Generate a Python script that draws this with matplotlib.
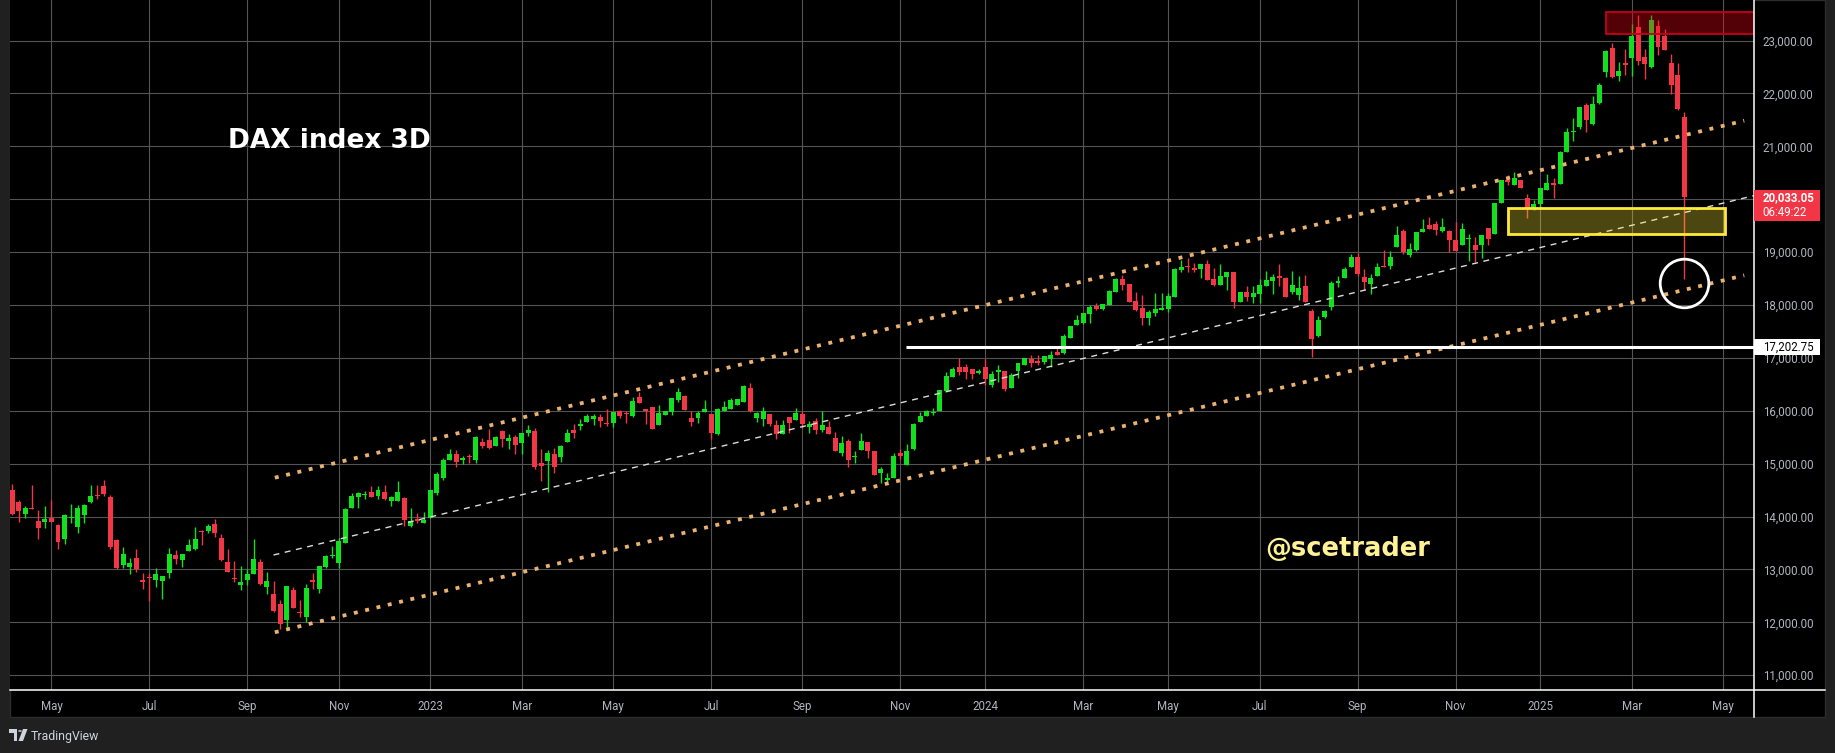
import numpy as np
import pandas as pd
import matplotlib
matplotlib.use('Agg')
import matplotlib.pyplot as plt
from matplotlib.patches import Rectangle, Polygon, Circle

# DAX 3D candles (last bar starts 2025-04-03)
opens = [14497, 14277, 14044, 14157, 13912, 13899, 13968, 13836, 13578, 13974,
         13805, 14031, 14277, 14390, 14572, 14365, 13553, 13081, 13043, 13213,
         12798, 12861, 12804, 12785, 12936, 13270, 13175, 13352, 13389, 13716,
         13723, 13855, 13591, 13137, 12842, 12709, 12804, 12917, 13137, 12672,
         12533, 12344, 12042, 12609, 12181, 12105, 12798, 12634, 13049, 13257,
         13119, 13503, 14163, 14371, 14402, 14459, 14390, 14459, 14296, 14289,
         14352, 13819, 13952, 13876, 13978, 14447, 14732, 15062, 15189, 15074,
         15150, 15074, 15417, 15455, 15328, 15626, 15436, 15512, 15398, 15588,
         15626, 15017, 15055, 15189, 15131, 15417, 15645, 15715, 15778, 15835,
         15873, 15765, 15765, 15987, 15955, 15892, 16254, 16025, 16076, 15734,
         15924, 15981, 16209, 16285, 15867, 15867, 15981, 15943, 15563, 16000,
         16038, 16114, 16171, 16437, 15867, 15848, 15943, 15734, 15563, 15886,
         15829, 15943, 15696, 15810, 15639, 15696, 15487, 15202, 15430, 15120,
         15259, 15411, 15240, 14823, 14690, 14728, 15202, 14975, 15278, 15791,
         15905, 15962, 16000, 16380, 16646, 16836, 16836, 16798, 16722, 16836,
         16494, 16741, 16742, 16439, 16742, 16874, 16987, 16931, 16931, 16969,
         17120, 17101, 17384, 17630, 17668, 17838, 17989, 17932, 18008, 18254,
         18499, 18405, 18084, 17951, 17762, 17857, 17913, 17932, 18159, 18669,
         18732, 18707, 18688, 18783, 18499, 18386, 18537, 18632, 18065, 18254,
         18159, 18216, 18367, 18461, 18537, 18518, 18254, 18197, 18367, 17895,
         17422, 17781, 17970, 18424, 18518, 18722, 18912, 18533, 18401, 18539,
         18722, 18741, 19088, 19404, 18950, 19044, 19385, 19517, 19536, 19404,
         19404, 19233, 19139, 19252, 19139, 19139, 19461, 19347, 19934, 20369,
         20275, 20369, 20028, 19820, 19915, 20180, 20312, 20294, 20886, 21265,
         21359, 21776, 21416, 21814, 22401, 22855, 22325, 22571, 22666, 23252,
         22684, 22495, 23271, 23082, 22571, 22344, 21549]
highs = [14610, 14320, 14195, 14591, 14119, 14195, 14308, 13855, 14044, 14233,
         14214, 14245, 14591, 14591, 14698, 14415, 13572, 13433, 13207, 13383,
         12924, 12924, 13024, 12873, 13408, 13364, 13289, 13578, 13798, 13748,
         13855, 13949, 13666, 13383, 13157, 13062, 13005, 13572, 13194, 12949,
         12779, 12420, 12684, 12665, 12420, 12722, 12930, 13062, 13270, 13440,
         13591, 14157, 14447, 14465, 14484, 14572, 14579, 14598, 14384, 14667,
         14377, 14161, 14060, 14086, 14504, 14846, 15112, 15284, 15265, 15150,
         15189, 15531, 15493, 15664, 15531, 15645, 15569, 15550, 15588, 15721,
         15683, 15284, 15265, 15303, 15354, 15664, 15740, 15835, 15930, 15930,
         15930, 16025, 15968, 16006, 15987, 16254, 16349, 16025, 16076, 16114,
         16000, 16247, 16437, 16304, 16000, 16000, 16209, 15943, 16057, 16190,
         16247, 16228, 16494, 16532, 15975, 16076, 15943, 15829, 15829, 15886,
         16057, 16000, 15810, 15867, 16000, 15810, 15601, 15525, 15468, 15240,
         15582, 15411, 15240, 14937, 14823, 15202, 15278, 15373, 15772, 15981,
         16019, 16057, 16399, 16741, 16836, 17006, 16893, 16798, 16798, 16969,
         16760, 16874, 16742, 16723, 16912, 17006, 17057, 17063, 17044, 17139,
         17214, 17460, 17611, 17819, 17857, 18008, 18046, 18027, 18292, 18518,
         18575, 18405, 18254, 18197, 17913, 18235, 18235, 18235, 18707, 18859,
         18896, 18802, 18783, 18859, 18707, 18783, 18632, 18632, 18254, 18367,
         18367, 18499, 18651, 18594, 18783, 18537, 18651, 18556, 18575, 17932,
         17800, 17913, 18461, 18556, 18726, 18968, 18981, 18685, 18584, 18798,
         19044, 19025, 19498, 19442, 19177, 19385, 19631, 19669, 19593, 19650,
         19423, 19574, 19555, 19347, 19290, 19328, 19461, 19934, 20369, 20464,
         20521, 20369, 20104, 19991, 20218, 20483, 20407, 20918, 21340, 21530,
         21738, 21814, 21946, 22192, 22817, 22950, 22590, 22836, 23309, 23480,
         22836, 23480, 23385, 23215, 22741, 22571, 21643]
lows = [14025, 13899, 13968, 14140, 13578, 13780, 13890, 13389, 13484, 13880,
        13691, 13880, 14258, 14327, 14390, 13389, 13012, 13031, 12917, 12955,
        12634, 12407, 12672, 12445, 12842, 13106, 13049, 13352, 13370, 13459,
        13679, 13616, 13157, 12955, 12766, 12609, 12709, 12911, 12709, 12533,
        12193, 11873, 11910, 12275, 12105, 12005, 12634, 12558, 13024, 13219,
        13024, 13503, 14163, 14163, 14333, 14365, 14340, 14308, 14201, 14289,
        13826, 13800, 13883, 13876, 13978, 14403, 14694, 15062, 14929, 14986,
        15005, 15005, 15296, 15271, 15328, 15309, 15271, 15176, 15176, 15531,
        14903, 14675, 14472, 14827, 15036, 15417, 15493, 15645, 15778, 15721,
        15702, 15709, 15689, 15854, 15759, 15873, 16146, 15746, 15646, 15734,
        15924, 15924, 16171, 16006, 15715, 15772, 15981, 15468, 15544, 16000,
        16038, 16114, 16171, 15968, 15791, 15715, 15715, 15468, 15563, 15582,
        15829, 15671, 15582, 15563, 15601, 15563, 15240, 15145, 14936, 15005,
        15259, 15107, 14785, 14633, 14652, 14728, 15088, 14975, 15259, 15791,
        15905, 15924, 16000, 16380, 16646, 16684, 16608, 16608, 16703, 16494,
        16456, 16551, 16364, 16439, 16628, 16874, 16836, 16874, 16893, 16836,
        17063, 17082, 17384, 17630, 17649, 17668, 17913, 17913, 18008, 18254,
        18292, 18065, 17894, 17630, 17630, 17800, 17913, 17876, 18159, 18632,
        18632, 18632, 18518, 18480, 18367, 18386, 18292, 17951, 18065, 18084,
        18046, 18046, 18367, 18216, 18367, 18159, 18216, 18102, 18065, 17025,
        17403, 17762, 17913, 18348, 18518, 18722, 18539, 18274, 18211, 18539,
        18710, 18685, 19088, 18968, 18912, 19025, 19385, 19429, 19328, 19385,
        19006, 19025, 19139, 18836, 18817, 18893, 19139, 19347, 19934, 20275,
        20275, 20218, 19650, 19801, 19839, 20180, 20028, 20294, 20886, 21095,
        21322, 21265, 21397, 21795, 22306, 22287, 22230, 22344, 22325, 22533,
        22268, 22476, 22722, 22817, 21984, 21681, 18489]
closes = [14056, 14107, 14157, 14145, 13786, 13950, 13899, 13522, 14025, 14000,
          14170, 14226, 14383, 14380, 14428, 13427, 13031, 13282, 13125, 12999,
          12766, 12842, 12911, 12873, 13289, 13200, 13289, 13459, 13572, 13704,
          13817, 13691, 13175, 12955, 12817, 12760, 12911, 13194, 12722, 12779,
          12212, 11973, 12684, 12275, 12168, 12647, 12766, 13062, 13251, 13270,
          13528, 14138, 14383, 14447, 14428, 14365, 14497, 14327, 14365, 14459,
          13933, 13914, 13920, 13940, 14504, 14808, 15074, 15189, 15024, 15100,
          15119, 15505, 15328, 15303, 15512, 15474, 15493, 15360, 15588, 15645,
          14935, 14960, 15208, 14941, 15341, 15588, 15588, 15740, 15892, 15892,
          15797, 15746, 15968, 15892, 15930, 16178, 16146, 16000, 15658, 15962,
          16000, 16247, 16361, 16019, 15791, 15962, 16038, 15582, 16038, 16076,
          16209, 16228, 16475, 16000, 15962, 16000, 15753, 15563, 15734, 15772,
          15962, 15753, 15753, 15639, 15734, 15563, 15240, 15392, 15069, 15139,
          15430, 15240, 14785, 14899, 14728, 15145, 15145, 15240, 15753, 15905,
          16000, 15981, 16399, 16665, 16798, 16741, 16741, 16703, 16760, 16608,
          16703, 16760, 16420, 16685, 16912, 17000, 16912, 16912, 17044, 17063,
          17063, 17422, 17611, 17724, 17857, 17970, 17932, 18027, 18273, 18499,
          18386, 18065, 17913, 17762, 17876, 17932, 17932, 18178, 18688, 18726,
          18713, 18669, 18783, 18480, 18386, 18556, 18632, 18065, 18254, 18159,
          18235, 18386, 18480, 18537, 18518, 18159, 18386, 18329, 18065, 17347,
          17724, 17895, 18424, 18461, 18688, 18912, 18577, 18426, 18514, 18722,
          18710, 18912, 19328, 19006, 19063, 19385, 19442, 19429, 19423, 19480,
          19233, 19025, 19442, 19271, 19044, 19328, 19252, 19934, 20369, 20319,
          20407, 20218, 19839, 19915, 20218, 20312, 20262, 20899, 21265, 21284,
          21738, 21492, 21795, 22154, 22798, 22306, 22419, 22533, 23082, 22609,
          22552, 23385, 22874, 22817, 22154, 21700, 20033.05]

last_bar_start = '2025-04-03'
xetra_holidays = ['2022-04-15', '2022-04-18', '2022-12-26', '2023-04-07', '2023-04-10',
                  '2023-05-01', '2023-12-25', '2023-12-26', '2024-01-01', '2024-03-29',
                  '2024-04-01', '2024-05-01', '2024-12-24', '2024-12-25', '2024-12-26',
                  '2024-12-31', '2025-01-01', '2025-04-18', '2025-04-21', '2025-05-01']

# drawings (bar index, price)
channel_x = [40.2, 265.2]
channel_upper = [14734, 21484]
channel_lower = [11811, 18561]
mid_x = [40.0, 266.7]
mid_y = [13272, 20067]
support_level = 17202.75
support_from = 136.9
zone_x = [229.1, 262.2]
zone_y = [19336, 19839]
top_x = [244.1, 266.7]
top_y = [23117, 23533]
circle_xy = (256, 18409)
last_price = 20033.05
countdown = '06:49:22'

GREEN = '#12e01f'
RED = '#f23645'
AXIS_TXT = '#b2b5be'

W, H = 1835, 753
def fx(px):
    return px / W
def fy(py):
    return 1 - py / H

fig = plt.figure(figsize=(W / 100, H / 100), dpi=100, facecolor='#202020')
fig.patches.append(Rectangle((fx(10), fy(717)), fx(1825) - fx(10), fy(0) - fy(717),
                             transform=fig.transFigure, facecolor='black',
                             edgecolor='#2c2c2c', lw=1, zorder=-10))
ax = fig.add_axes([fx(10), fy(690), fx(1754) - fx(10), fy(0) - fy(690)])
ax.set_facecolor('black')
for s in ax.spines.values():
    s.set_visible(False)

# bar dates -> month ticks
days = np.arange(np.datetime64('2022-01-03'), np.datetime64('2025-08-01'))
days = days[np.is_busday(days, holidays=xetra_holidays)]
n = len(closes)
n_total = n + 11
first = np.searchsorted(days, np.datetime64(last_bar_start)) - 3 * (n - 1)
bar_end = days[first + 2: first + 2 + 3 * n_total: 3]
months = bar_end.astype('datetime64[M]')
tick_pos, tick_lab = [], []
for i in range(1, len(months)):
    if months[i] != months[i - 1]:
        d = pd.Timestamp(bar_end[i])
        if d.month % 2 == 1:
            tick_pos.append(i)
            tick_lab.append(str(d.year) if d.month == 1 else d.strftime('%b'))

ax.set_xlim(-0.35, 266.7)
ax.set_ylim(10720, 23766)
ax.set_xticks(tick_pos)
ax.set_xticklabels(tick_lab)
ax.set_yticks(np.arange(11000, 23001, 1000))
ax.set_yticklabels(['{:,.2f}'.format(v) for v in range(11000, 23001, 1000)])
ax.yaxis.tick_right()
ax.tick_params(length=0, colors=AXIS_TXT, labelsize=8.3)
ax.tick_params(axis='y', pad=6.3)
ax.tick_params(axis='x', pad=7)
for t in ax.get_xticklabels() + ax.get_yticklabels():
    t.set_fontfamily('Roboto')
ax.grid(True, color='#545454', lw=0.8)
ax.set_axisbelow(True)

# candles
idx = np.arange(n)
o, h, l, c = (np.array(a, dtype=float) for a in (opens, highs, lows, closes))
col = np.where(c >= o, GREEN, RED)
ax.vlines(idx, l, h, colors=col, lw=1.0, zorder=3)
ax.bar(idx, np.maximum(np.abs(c - o), 22), bottom=np.minimum(o, c), width=0.76,
       color=col, lw=0, zorder=4)

# drawings
ax.plot(channel_x, channel_upper, color='#eab170', lw=2.7, ls=(0, (1.05, 2.05)),
        dash_capstyle='butt', zorder=5)
ax.plot(channel_x, channel_lower, color='#eab170', lw=2.7, ls=(0, (1.05, 2.05)),
        dash_capstyle='butt', zorder=5)
ax.plot(mid_x, mid_y, color='#dcdcdc', lw=1.0, ls=(0, (4.3, 4.0)), zorder=5)
ax.plot([support_from, 266.7], [support_level] * 2, color='white', lw=2.2,
        solid_capstyle='butt', zorder=5)
ax.add_patch(Rectangle((zone_x[0], zone_y[0]), zone_x[1] - zone_x[0], zone_y[1] - zone_y[0],
                       facecolor=(1, 0.92, 0.23, 0.3), edgecolor='#ffe93b', lw=2, zorder=5))
ax.add_patch(Rectangle((top_x[0], top_y[0]), top_x[1] - top_x[0], top_y[1] - top_y[0],
                       facecolor=(1, 0, 0.08, 0.33), edgecolor='#c4001a', lw=1.3, zorder=5))
ax.plot([circle_xy[0]], [circle_xy[1]], marker='o', ms=35, mfc='none', mec='white',
        mew=2, zorder=6)

fig.text(fx(228), fy(148), 'DAX index 3D', color='white', fontsize=19,
         fontweight='bold', ha='left', va='baseline')
fig.text(fx(1265), fy(556), '@scetrader', color='#fff196', fontsize=18.5,
         fontweight='bold', ha='left', va='baseline')

# frame lines between panes
fig.add_artist(plt.Line2D([fx(10), fx(1825)], [fy(690.3)] * 2, color='white', lw=1.1,
                          transform=fig.transFigure))
fig.add_artist(plt.Line2D([fx(1753.5)] * 2, [fy(0), fy(717)], color='white', lw=1.1,
                          transform=fig.transFigure))

# price labels on the axis
fig.patches.append(Rectangle((fx(1754), fy(221)), fx(1820) - fx(1754), fy(190) - fy(221),
                             transform=fig.transFigure, facecolor=RED, lw=0, zorder=5))
fig.text(fx(1762.7), fy(197.5), '{:,.2f}'.format(last_price), color='white', fontsize=8.3,
         fontfamily='Roboto', fontweight='bold', ha='left', va='center', zorder=6)
fig.text(fx(1762.7), fy(212), countdown, color='white', fontsize=8.3,
         fontfamily='Roboto', ha='left', va='center', zorder=6)
fig.patches.append(Rectangle((fx(1754), fy(355.3)), fx(1820) - fx(1754), fy(339.4) - fy(355.3),
                             transform=fig.transFigure, facecolor='white', lw=0, zorder=5))
fig.text(fx(1762.7), fy(347.3), '{:,.2f}'.format(support_level), color='black', fontsize=8.3,
         fontfamily='Roboto', ha='left', va='center', zorder=6)

# footer logo
logo = '#d1d4dc'
fig.patches.append(Polygon([(fx(9), fy(729)), (fx(17), fy(729)), (fx(17), fy(741)),
                            (fx(13.5), fy(741)), (fx(13.5), fy(732.5)), (fx(9), fy(732.5))],
                           closed=True, transform=fig.transFigure, facecolor=logo, lw=0))
fig.patches.append(Circle((fx(20), fy(731)), 1.9 / W, transform=fig.transFigure,
                          facecolor=logo, lw=0))
fig.patches.append(Polygon([(fx(23), fy(729)), (fx(27.5), fy(729)), (fx(23), fy(741)),
                            (fx(18.5), fy(741))], closed=True, transform=fig.transFigure,
                           facecolor=logo, lw=0))
fig.text(fx(31), fy(740), 'TradingView', color=logo, fontsize=8.8, fontfamily='Roboto',
         ha='left', va='baseline')

fig.savefig('out.png', dpi=100, facecolor=fig.get_facecolor())
